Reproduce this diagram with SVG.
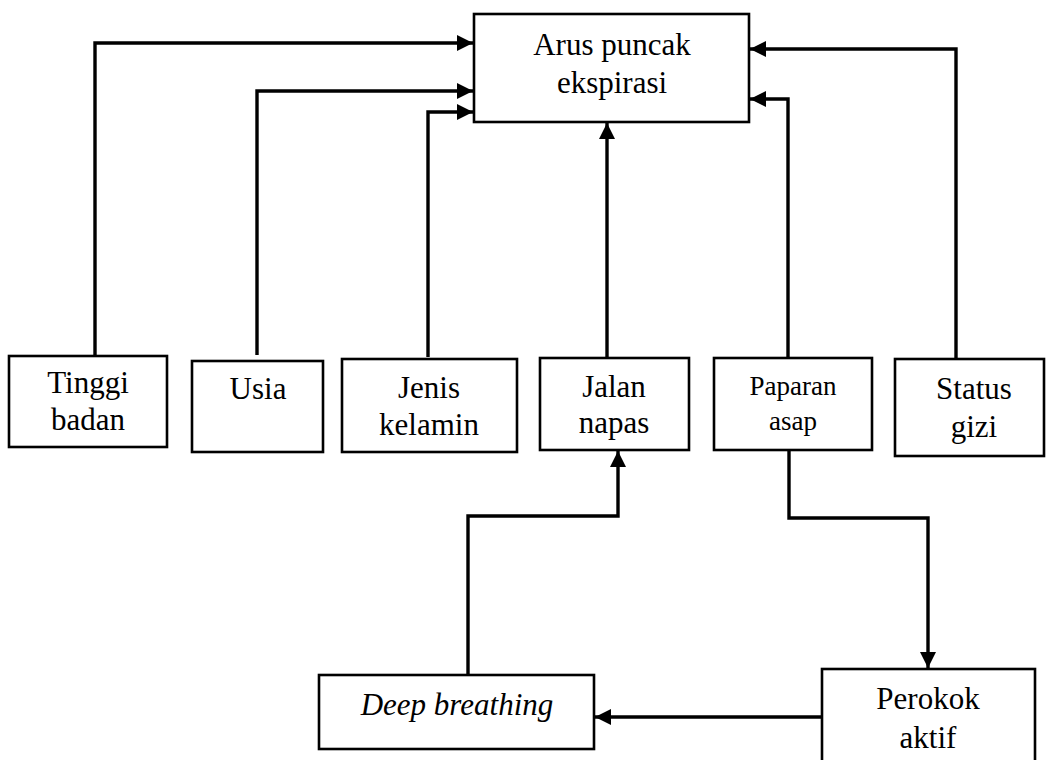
<svg xmlns="http://www.w3.org/2000/svg" width="1047" height="760" viewBox="0 0 1047 760">
<style>
.box{fill:#fff;stroke:#000;stroke-width:2.6}
.t{font-family:"Liberation Serif",Tinos,"Times New Roman","DejaVu Serif",serif;font-size:31px;fill:#000;text-anchor:middle}
.s{font-size:27px}
.i{font-style:italic}
.c{fill:none;stroke:#000;stroke-width:3.4;stroke-linejoin:miter}
</style>
<defs>
<marker id="ah" markerUnits="userSpaceOnUse" markerWidth="16" markerHeight="16" viewBox="0 0 16 16" refX="16" refY="8" orient="auto">
<path d="M0,0 L16,8 L0,16 Z" fill="#000"/>
</marker>
</defs>
<g id="connectors">
<path class="c" d="M95,355 V43 H473" marker-end="url(#ah)"/>
<path class="c" d="M257,355 V91 H473" marker-end="url(#ah)"/>
<path class="c" d="M428,357 V112 H473" marker-end="url(#ah)"/>
<path class="c" d="M607,357 V123" marker-end="url(#ah)"/>
<path class="c" d="M788,357 V99 H750" marker-end="url(#ah)"/>
<path class="c" d="M956,358 V49 H750" marker-end="url(#ah)"/>
<path class="c" d="M789,451 V518 H928 V668" marker-end="url(#ah)"/>
<path class="c" d="M468,675 V516 H618 V451" marker-end="url(#ah)"/>
<path class="c" d="M822,717 H595" marker-end="url(#ah)"/>
</g>
<g id="node-arus">
<rect class="box" x="474" y="14" width="275" height="108"/>
<text class="t" x="612" y="55">Arus puncak</text>
<text class="t" x="612" y="93">ekspirasi</text>
</g>
<g id="node-tinggi">
<rect class="box" x="9" y="356" width="158" height="91"/>
<text class="t" x="88" y="393">Tinggi</text>
<text class="t" x="88" y="430">badan</text>
</g>
<g id="node-usia">
<rect class="box" x="192" y="361" width="131" height="91"/>
<text class="t" x="258" y="399">Usia</text>
</g>
<g id="node-jenis">
<rect class="box" x="342" y="359" width="175" height="93"/>
<text class="t" x="429" y="398">Jenis</text>
<text class="t" x="429" y="435">kelamin</text>
</g>
<g id="node-jalan">
<rect class="box" x="540" y="358" width="149" height="92"/>
<text class="t" x="614" y="397">Jalan</text>
<text class="t" x="614" y="433">napas</text>
</g>
<g id="node-paparan">
<rect class="box" x="714" y="358" width="158" height="92"/>
<text class="t s" x="793" y="395">Paparan</text>
<text class="t s" x="793" y="430">asap</text>
</g>
<g id="node-status">
<rect class="box" x="895" y="359" width="149" height="97"/>
<text class="t" x="974" y="399">Status</text>
<text class="t" x="974" y="437">gizi</text>
</g>
<g id="node-deep">
<rect class="box" x="319" y="675" width="275" height="74"/>
<text class="t i" x="457" y="715">Deep breathing</text>
</g>
<g id="node-perokok">
<rect class="box" x="822" y="669" width="213" height="100"/>
<text class="t" x="928" y="709">Perokok</text>
<text class="t" x="928" y="748">aktif</text>
</g>
</svg>
